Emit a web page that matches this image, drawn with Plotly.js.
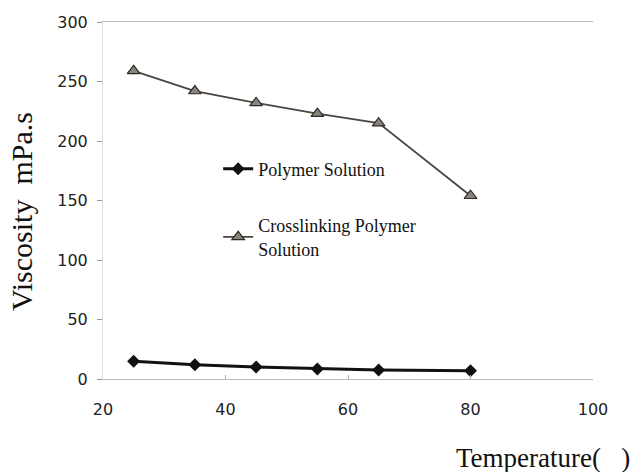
<!DOCTYPE html>
<html>
<head>
<meta charset="utf-8">
<script src="https://cdn.plot.ly/plotly-3.0.1.min.js"></script>
<style>html,body{margin:0;padding:0;background:#fff;}#chart{width:633px;height:472px;}</style>
</head>
<body>
<div id="chart"></div>
<script>
const temperature = [25, 35, 45, 55, 65, 80];
const polymerSolution = [15, 12, 10, 8.5, 7.5, 7];
const crosslinkingSolution = [259, 242, 232, 223, 215, 154];
const xTickValues = [20, 40, 60, 80, 100];
const yTickValues = [0, 50, 100, 150, 200, 250, 300];

const traces = [
  {
    x: temperature, y: polymerSolution, name: 'Polymer Solution',
    mode: 'lines+markers', legendgroup: 'a',
    line: {color: '#111', width: 3},
    marker: {symbol: 'diamond', size: 10, color: '#111'}
  },
  {
    x: temperature, y: crosslinkingSolution, name: 'Crosslinking Polymer<br>Solution',
    mode: 'lines+markers', legendgroup: 'b',
    line: {color: '#4a4640', width: 1.8},
    marker: {symbol: 'triangle-up', size: 11, color: '#8a857c', line: {color: '#2d2a25', width: 1.2}}
  }
];

const layout = {
  width: 633, height: 472,
  margin: {l: 103, r: 40, t: 22, b: 93},
  paper_bgcolor: '#fff', plot_bgcolor: '#fff',
  showlegend: true,
  legend: {
    x: 0.235, y: 0.64, xanchor: 'left', yanchor: 'top',
    bgcolor: 'rgba(0,0,0,0)', tracegroupgap: 30,
    font: {family: 'Liberation Serif, Times New Roman, serif', size: 18, color: '#111'}
  },
  xaxis: {
    range: [20, 100], tickvals: xTickValues, showgrid: false, zeroline: false,
    showline: true, mirror: true, linecolor: '#bdbab2', linewidth: 1,
    ticks: 'inside', ticklen: 4, tickcolor: '#aaa',
    ticklabelstandoff: 16,
    tickfont: {family: 'DejaVu Sans, sans-serif', size: 16, color: '#222'}
  },
  yaxis: {
    range: [0, 300], tickvals: yTickValues, showgrid: false, zeroline: false,
    showline: true, linecolor: '#e2e0da', linewidth: 1,
    ticks: 'outside', ticklen: 5, tickcolor: '#999',
    ticklabelstandoff: 6,
    tickfont: {family: 'DejaVu Sans, sans-serif', size: 16, color: '#222'}
  },
  annotations: [
    {
      text: 'Viscosity  mPa.s', xref: 'paper', yref: 'paper',
      x: -0.165, y: 0.468, xanchor: 'center', yanchor: 'middle', textangle: -90,
      showarrow: false,
      font: {family: 'Liberation Serif, Times New Roman, serif', size: 30, color: '#111'}
    },
    {
      text: 'Temperature(   )', xref: 'paper', yref: 'paper',
      x: 1.079, y: -0.221, xanchor: 'right', yanchor: 'middle',
      showarrow: false,
      font: {family: 'Liberation Serif, Times New Roman, serif', size: 27, color: '#111'}
    }
  ]
};

Plotly.newPlot('chart', traces, layout, {displayModeBar: false, staticPlot: true});
</script>
</body>
</html>
